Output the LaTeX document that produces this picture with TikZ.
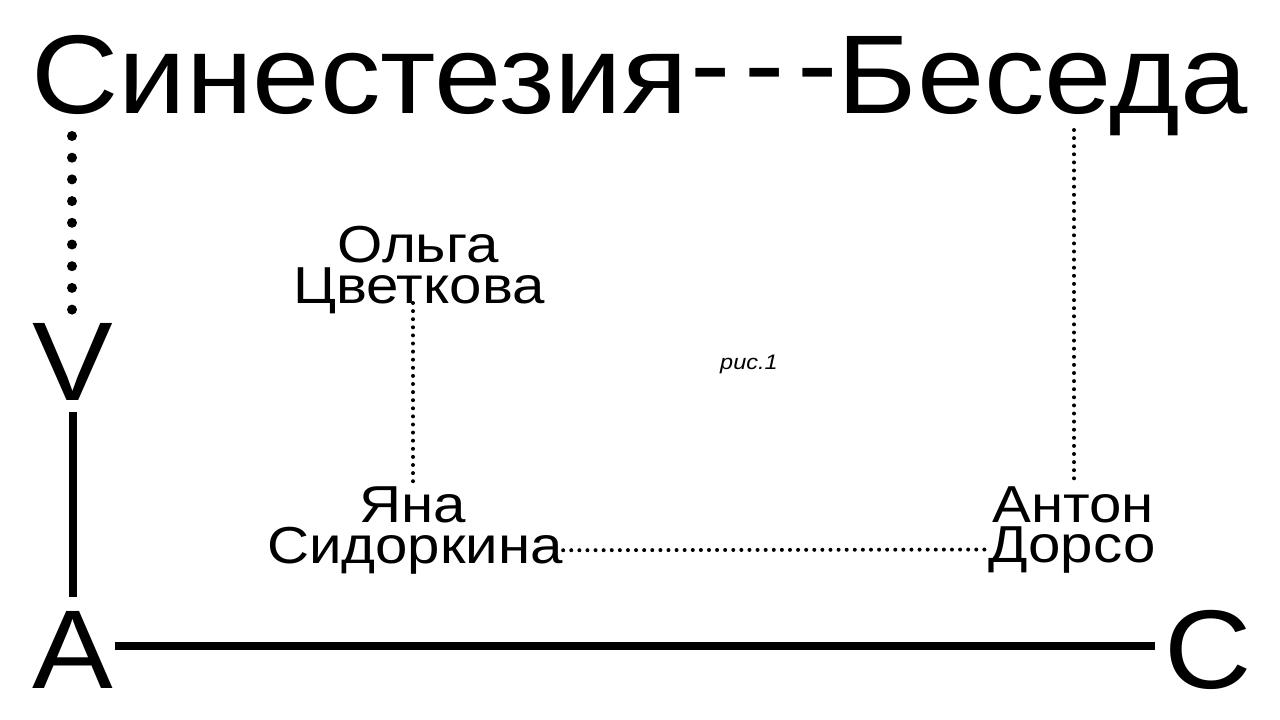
\documentclass[tikz,border=0pt]{standalone}
\usepackage{fontspec}
\setmainfont{Liberation Sans}
\newfontfamily\bigfont[FakeStretch=1.08]{Liberation Sans}
\newfontfamily\personfont[FakeStretch=1.12]{Liberation Sans}
\usetikzlibrary{positioning}

\newcommand{\titledash}{\raisebox{11pt}{-}}

\begin{document}
\begin{tikzpicture}[x=1pt, y=-1pt,
  bigletter/.style={inner sep=0pt, anchor=base, font=\bigfont\fontsize{112}{112}\selectfont},
  person/.style={inner sep=0pt, anchor=base, font=\personfont\fontsize{52}{52}\selectfont},
  bigdots/.style={line width=10pt, line cap=round, dash pattern=on 0pt off 21.7pt},
  smalldots/.style={line width=4pt, line cap=round, dash pattern=on 0pt off 8.1pt},
  axis/.style={line width=7.5pt}]
  \useasboundingbox (0,0) rectangle (1280,720);

  % title and the three corner letters
  \node[bigletter, anchor=base west] (title) at (31,113)
    {Синестезия\kern3pt\titledash\kern13pt\titledash\kern13pt\titledash Беседа};
  \node[bigletter] (v) at (73,400) {V};
  \node[bigletter] (a) at (73,688) {A};
  \node[bigletter] (c) at (1208,688) {C};

  % names
  \node[person] (olga) at (418,262) {Ольга};
  \node[person] (cvetkova) at (419,303) {Цветкова};
  \node[person] (yana) at (413,522) {Яна};
  \node[person] (sidorkina) at (415,563) {Сидоркина};
  \node[person] (anton) at (1073,522) {Антон};
  \node[person] (dorso) at (1072,562) {Дорсо};
  \node[inner sep=0pt, anchor=base, font=\personfont\fontsize{21}{21}\selectfont\itshape] (fig) at (749,369) {рис.1};

  \coordinate (titleL) at (72,136);
  \coordinate (titleR) at (1074,130);

  % connectors
  \draw[bigdots] (titleL) -- (titleL |- v.north) ++(0,-6);
  \draw[axis] ([yshift=-12pt]v.south) -- ([yshift=14pt]v.south |- a.north);
  \draw[axis] ([xshift=1pt]a.east |- 0,646) -- ([xshift=-9pt]c.west |- 0,646);
  \draw[smalldots] (titleR) -- (titleR |- anton.north);
  \draw[smalldots] (cvetkova.base -| yana.north) -- (yana.north);
  \draw[smalldots] (sidorkina.east) -- (dorso.west);
\end{tikzpicture}
\end{document}
